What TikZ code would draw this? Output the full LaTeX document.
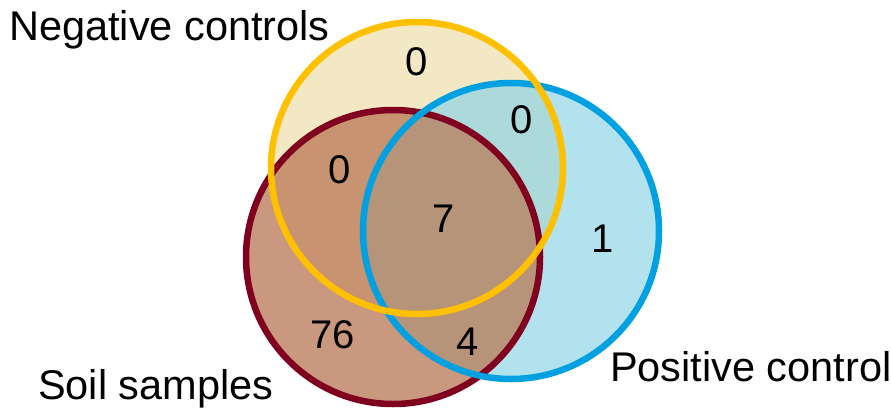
\documentclass[tikz,border=0pt]{standalone}
\usepackage{fontspec}
\setmainfont{Liberation Sans}
\definecolor{yOnly}{RGB}{242,233,196}
\definecolor{bOnly}{RGB}{178,226,238}
\definecolor{rOnly}{RGB}{201,152,127}
\definecolor{yb}{RGB}{172,218,219}
\definecolor{yr}{RGB}{200,147,112}
\definecolor{br}{RGB}{182,147,121}
\definecolor{ybr}{RGB}{182,148,121}
\definecolor{yStroke}{RGB}{255,192,0}
\definecolor{bStroke}{RGB}{0,160,225}
\definecolor{rStroke}{RGB}{128,0,32}
\begin{document}
\begin{tikzpicture}[x=1pt,y=-1pt,
  lbl/.style={font=\fontsize{41.5}{48}\selectfont, inner sep=0pt, anchor=base west},
  num/.style={font=\fontsize{40}{48}\selectfont, inner sep=0pt, anchor=base},
  ring/.style={line width=6.5pt}]
\useasboundingbox (0,0) rectangle (891,410);
\coordinate (cY) at (417,168);
\coordinate (cB) at (511,231);
\coordinate (cR) at (393,257);
% single fills
\fill[rOnly] (cR) circle[radius=147pt];
\fill[bOnly] (cB) circle[radius=148pt];
\fill[yOnly] (cY) circle[radius=146pt];
% pairwise
\begin{scope}
  \clip (cY) circle[radius=146pt];
  \fill[yb] (cB) circle[radius=148pt];
  \fill[yr] (cR) circle[radius=147pt];
\end{scope}
\begin{scope}
  \clip (cB) circle[radius=148pt];
  \fill[br] (cR) circle[radius=147pt];
\end{scope}
\begin{scope}
  \clip (cY) circle[radius=146pt];
  \clip (cB) circle[radius=148pt];
  \fill[ybr] (cR) circle[radius=147pt];
\end{scope}
% outlines
\draw[ring, rStroke] (cR) circle[radius=147pt];
\draw[ring, bStroke] (cB) circle[radius=148pt];
\draw[ring, yStroke] (cY) circle[radius=146pt];
% labels
\node[lbl] (negLbl) at (9,40) {Negative controls};
\node[lbl] (posLbl) at (610,381) {Positive control};
\node[lbl] (soilLbl) at (38,399) {Soil samples};
% numbers
\node[num] (nY) at (417,75) {0};
\node[num] (nYB) at (522,133) {0};
\node[num] (nYR) at (340,183) {0};
\node[num] (nAll) at (444,232) {7};
\node[num] (nB) at (603,252) {1};
\node[num] (nR) at (333,348) {76};
\node[num] (nBR) at (468,355) {4};
\end{tikzpicture}
\end{document}
